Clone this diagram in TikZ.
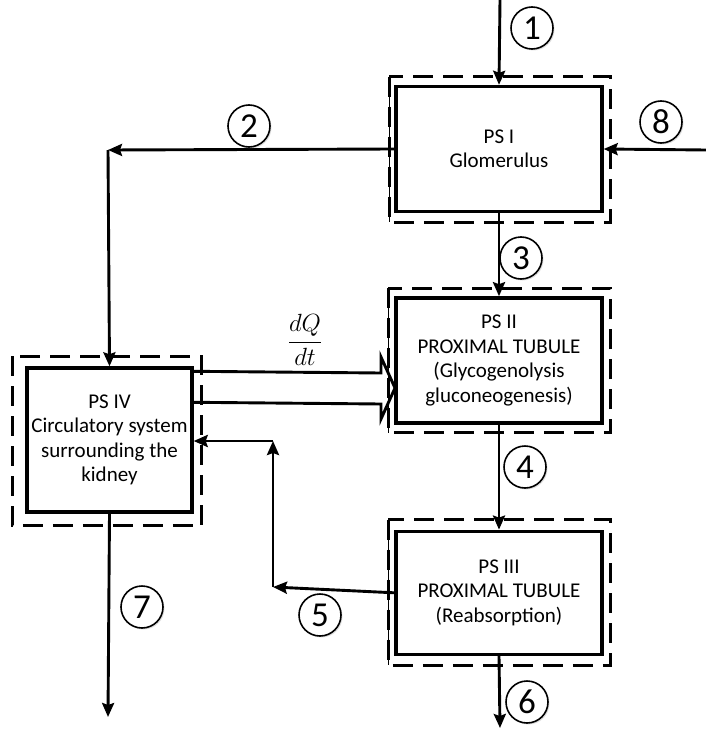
\documentclass[tikz,border=0pt]{standalone}
\usepackage{amsmath}
\usepackage{fontspec}
\setmainfont{Carlito}
\usetikzlibrary{arrows.meta,positioning,calc,shadows}
\tikzset{
  psbox/.style={
    draw,fill=white,line width=3.4pt,
    minimum width=206pt,minimum height=125pt,
    align=center,font=\fontsize{21}{24.5}\selectfont
  },
  frame/.style={draw,line width=3pt,dash pattern=on 20pt off 10pt},
  edge/.style={draw,line width=.9pt},
  tag/.style={
    circle,draw,fill=white,line width=1.6pt,minimum size=42pt,inner sep=0pt,
    font=\fontsize{35}{35}\selectfont,
    drop shadow={opacity=.25,shadow xshift=1.5pt,shadow yshift=-1.5pt}
  },
  arrow/.style={-{Stealth[length=14pt,width=12pt,inset=2pt]},line width=2.9pt},
  flux/.style={line width=2.9pt,line join=miter}
}
\begin{document}
\begin{tikzpicture}[x=1pt,y=-1pt]
\useasboundingbox (0,0) rectangle (706,733);
% process stages
\node[psbox] (ps1) at (499,149) {PS I\\Glomerulus};
\node[psbox,below=83pt of ps1] (ps2)
{PS II\\PROXIMAL TUBULE\\(Glycogenolysis\\gluconeogenesis)};
\node[psbox,below=105pt of ps2,minimum height=123pt] (ps3)
{PS III\\PROXIMAL TUBULE\\(Reabsorption)};
\node[psbox,minimum width=165pt,minimum height=144pt] (ps4) at (109.5,440)
{PS IV\\Circulatory system\\surrounding the\\kidney};
% dashed frames
\foreach \b/\l/\t/\r/\d in {ps1/5/8/7/9,ps2/6/8/7/8,ps3/6/10/7/9,ps4/13/10/8/12}{
  \draw[frame] ($(\b.north west)+(-\l,-\t)$) rectangle ($(\b.south east)+(\r,\d)$);
}
\foreach \b/\l/\t/\d in {ps1/5/8/9,ps2/6/8/8,ps3/6/10/9}{
  \draw[edge] ($(\b.north west)+(-\l,-\t)$) -- ($(\b.south west)+(-\l,\d)$);
}
% free ends and corners
\coordinate (in1) at (500,0);
\coordinate (in8) at (706,150);
\coordinate (c2) at (108,150);
\coordinate (c5a) at (273,587);
\coordinate (c5b) at (273,441);
\coordinate (out6) at (500,728);
\coordinate (out7) at (108,717);
% flows
\draw[arrow] (in1) -- (ps1.north);
\draw[arrow] (in8) -- (ps1.east);
\draw[arrow] (ps1.west) -- (c2);
\draw[arrow] (c2) -- (ps4.north);
\draw[arrow] (ps1.south) -- (ps2.north);
\draw[arrow] (ps2.south) -- (ps3.north);
\draw[arrow] (ps3.south) -- (out6);
\draw[arrow] (ps3.west) -- (c5a);
\draw[arrow] (c5a) -- (c5b);
\draw[arrow] (c5b) -- (ps4.east |- c5b);
\draw[arrow] (ps4.south) -- (out7);
% glucose production rate
\draw[flux] ($(ps4.north east)+(0,5)$) -- (381,373) -- (381,357) -- (395,388)
  -- (381,419) -- (381,404) -- ($(ps4.north east)+(0,36)$);
\node[font=\fontsize{26}{26}\selectfont] (rate) at (305,340) {$\dfrac{dQ}{dt}$};
% flow numbers
\node[tag] (n1) at (532,28) {1};
\node[tag] (n2) at (249,126) {2};
\node[tag] (n3) at (521,258) {3};
\node[tag] (n4) at (525,467) {4};
\node[tag] (n5) at (320,615) {5};
\node[tag] (n6) at (527,702) {6};
\node[tag] (n7) at (142,607) {7};
\node[tag] (n8) at (661,122) {8};
\end{tikzpicture}
\end{document}
